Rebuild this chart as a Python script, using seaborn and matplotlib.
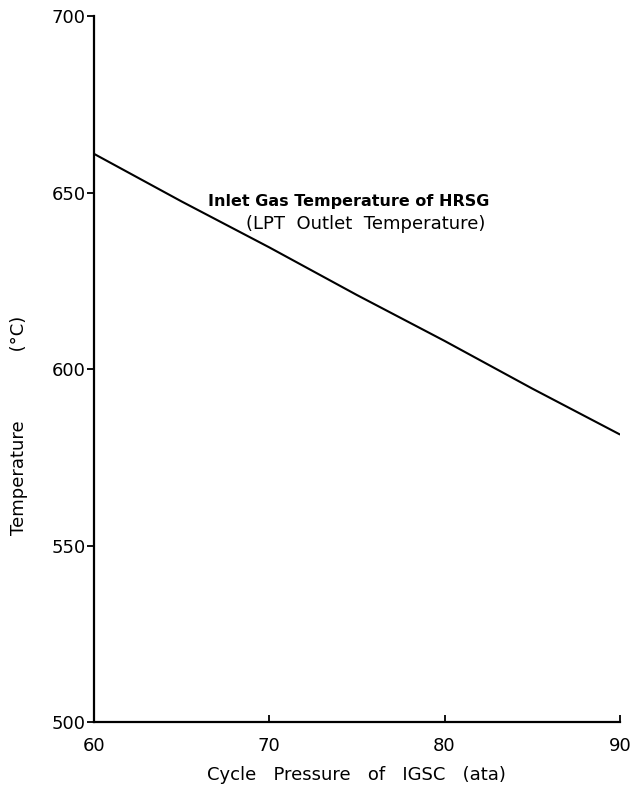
import numpy as np
import pandas as pd
import matplotlib
matplotlib.use('Agg')
import matplotlib.pyplot as plt
import seaborn as sns

# data
pressure = [60, 65, 70, 75, 80, 85, 90]
temperature = [661, 647.5, 634.5, 621, 608, 594.5, 581.5]

x_ticks = [60, 70, 80, 90]
y_ticks = [500, 550, 600, 650, 700]

label_line1 = 'Inlet Gas Temperature of HRSG'
label_line2 = '(LPT  Outlet  Temperature)'

df = pd.DataFrame({'pressure': pressure, 'temperature': temperature})

sns.set_style('ticks')
plt.rcParams['font.family'] = ['DejaVu Sans']
plt.rcParams['text.color'] = 'black'
plt.rcParams['axes.labelcolor'] = 'black'
plt.rcParams['xtick.color'] = 'black'
plt.rcParams['ytick.color'] = 'black'

fig = plt.figure(figsize=(6.35, 7.86), dpi=100)
ax = fig.add_axes([0.148, 0.0814, 0.828, 0.898])

sns.lineplot(data=df, x='pressure', y='temperature', ax=ax,
             color='black', linewidth=1.5)

ax.set_xlim(60, 90)
ax.set_ylim(500, 700)
ax.set_xticks(x_ticks)
ax.set_yticks(y_ticks)
ax.tick_params(axis='x', direction='in', length=5, width=1.3, labelsize=13, pad=11)
ax.tick_params(axis='y', direction='out', length=5, width=1.3, labelsize=13, pad=1)

sns.despine(ax=ax)
for s in ['left', 'bottom']:
    ax.spines[s].set_linewidth(1.6)
    ax.spines[s].set_color('black')

ax.set_xlabel('Cycle   Pressure   of   IGSC   (ata)', fontsize=13, labelpad=8)
ax.set_ylabel('Temperature            (\u00b0C)', fontsize=13)
ax.yaxis.set_label_coords(-0.125, 0.42)

ax.text(66.5, 647.4, label_line1, fontsize=11.5, fontweight='bold',
        ha='left', va='center')
ax.text(68.7, 641.2, label_line2, fontsize=13, ha='left', va='center')

fig.savefig('out.png', dpi=100)
